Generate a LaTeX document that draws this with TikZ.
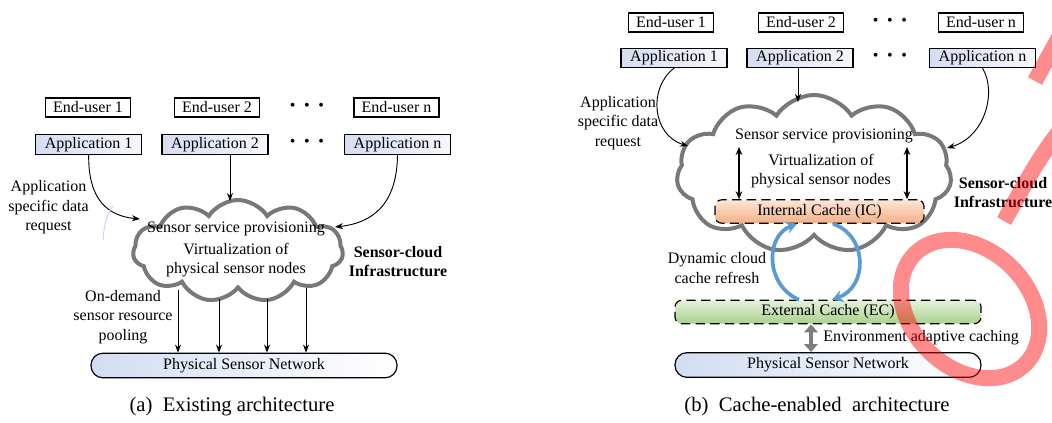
\documentclass[tikz,border=0pt]{standalone}
\usepackage{fontspec}
\setmainfont{Liberation Serif}
\usetikzlibrary{shapes.symbols,arrows.meta}
\definecolor{appL}{RGB}{214,221,242}
\definecolor{appR}{RGB}{246,247,252}
\definecolor{psnL}{RGB}{210,221,242}
\definecolor{cloudgray}{RGB}{120,120,120}
\definecolor{icTop}{RGB}{252,230,216}
\definecolor{icBot}{RGB}{243,176,132}
\definecolor{ecTop}{RGB}{228,241,219}
\definecolor{ecBot}{RGB}{170,208,142}
\definecolor{refblue}{RGB}{91,155,213}
\definecolor{arrgray}{RGB}{125,125,125}
\begin{document}
\begin{tikzpicture}[x=0.75pt,y=-0.75pt,
  font=\fontsize{12}{14.6}\selectfont,
  userbox/.style={draw, line width=1pt, fill=white, minimum width=63.75pt, minimum height=14.25pt, inner sep=0pt},
  appbox/.style={draw, line width=0.8pt, left color=appL, right color=appR, minimum width=79.5pt, minimum height=14.5pt, inner sep=0pt},
  dotsn/.style={inner sep=0pt},
  cloudshape/.style={cloud, cloud puffs=11, cloud puff arc=115, cloud ignores aspect, draw=cloudgray, line width=3pt, fill=white, inner sep=0pt},
  arr/.style={-{Stealth[length=6pt,width=4.5pt]}, line width=0.7pt},
  dbl/.style={{Stealth[length=6pt,width=5pt]}-{Stealth[length=6pt,width=5pt]}, line width=1.4pt},
  gdbl/.style={{Triangle[length=6pt,width=10pt]}-{Triangle[length=6pt,width=10pt]}, line width=3.5pt, arrgray},
  blarr/.style={-{Stealth[length=8pt,width=9pt]}, line width=2.8pt, refblue},
  lbl/.style={align=center, inner sep=0pt},
  bl/.style={align=center, inner sep=0pt, font=\fontsize{12}{14}\selectfont\bfseries},
  psnbox/.style={draw, line width=0.9pt, rounded corners=9pt, left color=psnL, right color=white, minimum height=18.5pt, minimum width=229.5pt, inner sep=0pt},
  cachebox/.style={draw, dash pattern=on 7pt off 4pt, line width=0.9pt, rounded corners=5pt, minimum height=17.5pt, inner sep=0pt},
  capt/.style={inner sep=0pt, font=\fontsize{15.5}{18}\selectfont}]
\useasboundingbox (0,0) rectangle (1052,422);

% ---------------- (a) ----------------
\node[userbox] (eu1a) at (88,107.5) {End-user 1};
\node[userbox] (eu2a) at (217,107.5) {End-user 2};
\node[dotsn] (d1a) at (307,107) {•\hspace{6.5pt}•\hspace{6.5pt}•};
\node[userbox] (euna) at (396.5,107.5) {End-user n};
\node[appbox] (ap1a) at (88.7,144.5) {Application 1};
\node[appbox] (ap2a) at (215,144.5) {Application 2};
\node[dotsn] (d2a) at (307,143) {•\hspace{6.5pt}•\hspace{6.5pt}•};
\node[appbox] (apna) at (397.5,144.5) {Application n};

\node[cloudshape, minimum width=157.5pt, minimum height=76.5pt] (cla) at (238,251) {};
\coordinate (ina1) at (140,219);
\coordinate (ina2) at (230,201);
\coordinate (ina3) at (335,227);
\draw[arr] (ap1a.south) .. controls (88,200) and (108,216) .. (ina1);
\draw[arr] (ap2a.south -| ina2) -- (ina2);
\draw[arr] (apna.south) .. controls (397,205) and (372,223) .. (ina3);
\draw[blue!18, line width=0.8pt] (103,240) .. controls (104,225) and (107,213) .. (113,206);

\node[lbl] (reqa) at (48.5,207.5) {Application\\specific data\\request};
\node[lbl] (sspa) at (236,229) {Sensor service provisioning};
\node[lbl] (virta) at (236,260) {Virtualization of\\physical sensor nodes};
\node[bl] (scia) at (398,261.5) {Sensor-cloud\\Infrastructure};

\node[psnbox] (psna) at (244,365.5) {Physical Sensor Network};
\coordinate (oa1) at (178,290);
\coordinate (oa2) at (219,299);
\coordinate (oa3) at (267,299);
\coordinate (oa4) at (306,288);
\foreach \c in {oa1,oa2,oa3,oa4} \draw[arr] (\c) -- (\c |- psna.north);
\node[lbl] (poola) at (123,317) {On-demand\\sensor resource\\pooling};
\node[capt] (capa) at (232,407) {(a)\ \ Existing architecture};

% ---------------- (b) ----------------
\node[userbox] (eu1b) at (671,22.5) {End-user 1};
\node[userbox] (eu2b) at (801,22.5) {End-user 2};
\node[dotsn] (d1b) at (890,22) {•\hspace{6.5pt}•\hspace{6.5pt}•};
\node[userbox] (eunb) at (981,22.5) {End-user n};
\node[appbox] (ap1b) at (674,58) {Application 1};
\node[appbox] (ap2b) at (800,58) {Application 2};
\node[dotsn] (d2b) at (890,57) {•\hspace{6.5pt}•\hspace{6.5pt}•};
\node[appbox] (apnb) at (982.5,58) {Application n};

\node[cloudshape, minimum width=206.25pt, minimum height=118.5pt] (clb) at (814,174) {};
\coordinate (inb1) at (688,146);
\coordinate (inb2) at (798,102);
\coordinate (inb3) at (947,148);
\draw[arr] (ap1b.south) .. controls (648,88) and (652,135) .. (inb1);
\draw[arr] (ap2b.south -| inb2) -- (inb2);
\draw[arr] (apnb.south) .. controls (997,92) and (985,137) .. (inb3);

\node[lbl] (reqb) at (618,123) {Application\\specific data\\request};
\node[lbl] (sspb) at (824,136) {Sensor service provisioning};
\node[lbl] (virtb) at (821,171) {Virtualization of\\physical sensor nodes};
\node[bl] (scib) at (1003,192.5) {Sensor-cloud\\Infrastructure};

\node[cachebox, top color=icTop, bottom color=icBot, minimum width=156.75pt] (icb) at (819.5,211.5) {Internal Cache (IC)};
\coordinate (ub1) at (739,147);
\coordinate (ub2) at (907,147);
\draw[dbl] (ub1) -- (ub1 |- icb.north);
\draw[dbl] (ub2) -- (ub2 |- icb.north);

\node[cachebox, top color=ecTop, bottom color=ecBot, minimum width=229.5pt] (ecb) at (828,312) {External Cache (EC)};
\node[psnbox] (psnb) at (828,365) {Physical Sensor Network};

\draw[blarr] ([xshift=-21.75pt]ecb.north) .. controls (765,285) and (765,236) .. ([xshift=-16.9pt]icb.south);
\draw[blarr] ([xshift=10.1pt]icb.south) .. controls (868,236) and (868,287) .. ([xshift=3pt]ecb.north);
\node[lbl] (dynb) at (717,268) {Dynamic cloud\\cache refresh};

\draw[gdbl] ([xshift=-12.75pt]ecb.south) -- ([xshift=-12.75pt]psnb.north);
\node[anchor=west, inner sep=0pt] (envb) at (823,338) {Environment adaptive caching};
\node[capt] (capb) at (817,407) {(b)\ \ Cache-enabled\ \ architecture};

% ---------------- red overlay ----------------
\begin{scope}[red, opacity=0.45, line width=12pt]
\draw (1063,30) -- (1035,81);
\draw (1004,221) .. controls (1022,190) and (1036,160) .. (1063,127);
\draw[rotate around={-45:(970,309)}] (970,309) ellipse [x radius=58.5pt, y radius=44.25pt];
\end{scope}
\end{tikzpicture}
\end{document}
